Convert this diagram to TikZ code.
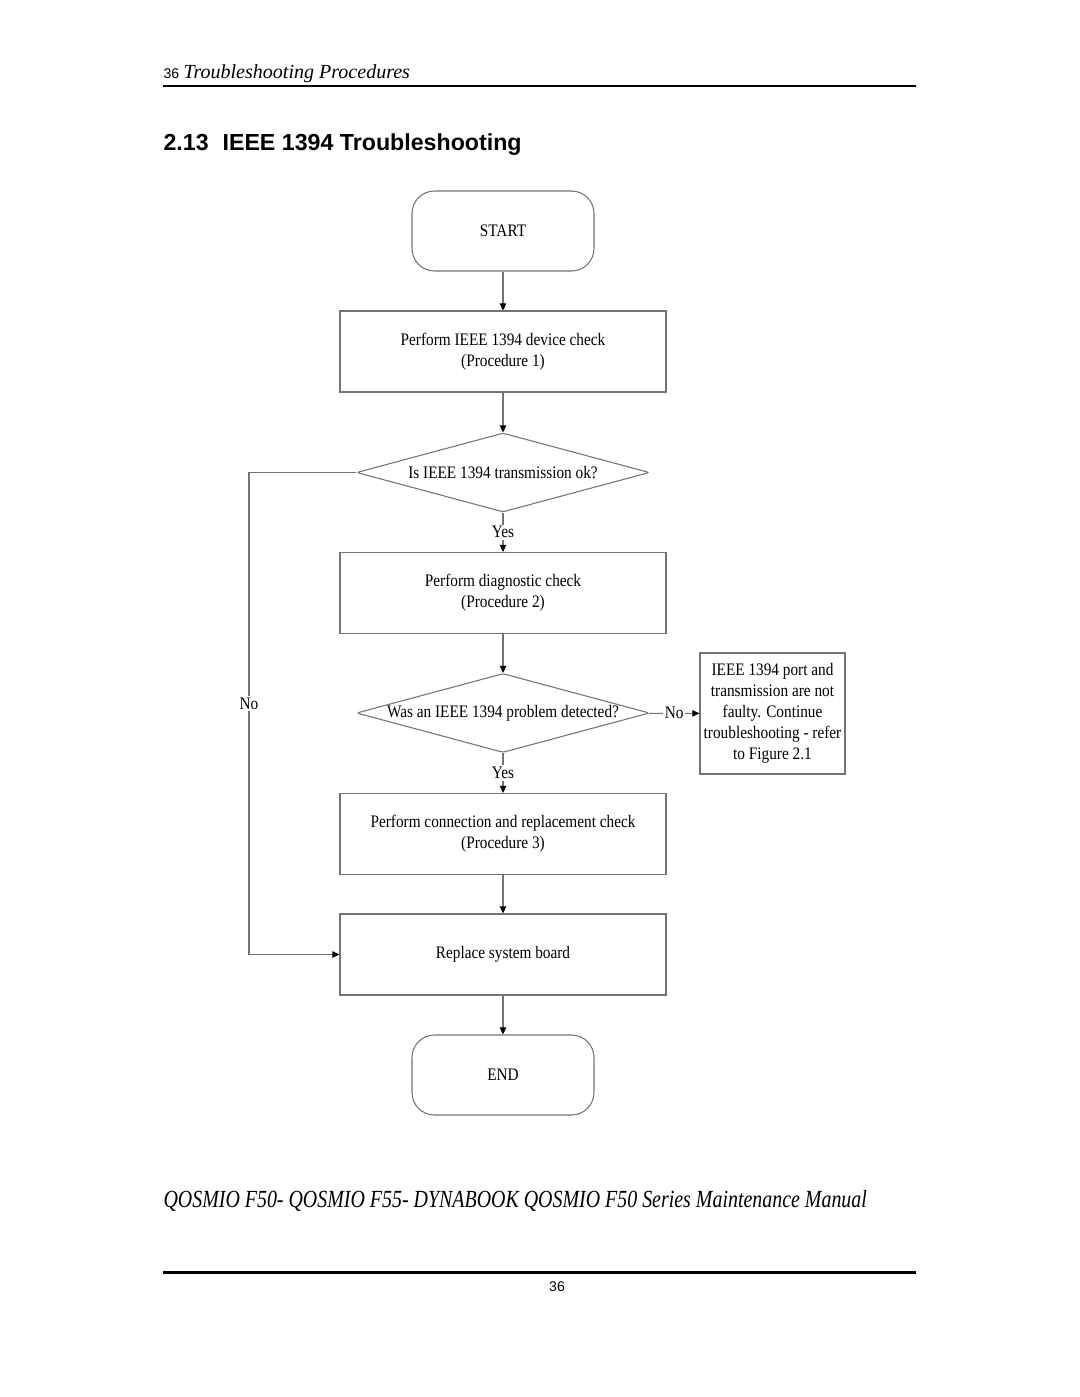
\documentclass[tikz,border=0pt]{standalone}
\usepackage{fontspec}
\setmainfont{Liberation Serif}
\setsansfont{Liberation Sans}
\newfontfamily\chartfont[FakeStretch=0.87]{Liberation Serif}
\newfontfamily\footfont[FakeStretch=0.81]{Liberation Serif}
\usetikzlibrary{%
  arrows.meta,%
  shapes.geometric,% wg. diamond
  shapes.misc,%
  positioning%
}

\begin{document}
\begin{tikzpicture}[
  font=\chartfont\fontsize{10}{12}\selectfont,
  >={Triangle[length=4pt, width=3.6pt, color=black]},
  line width=0.6pt,
  flowline/.style={draw=black!55, ->},
  terminal/.style={rectangle, rounded corners=0.45cm, minimum width=3.64cm, minimum height=1.6cm, draw=black!55},
  process/.style={rectangle, minimum width=6.52cm, minimum height=1.62cm, draw=black!55, align=center},
  decision/.style={diamond, minimum width=5.86cm, minimum height=1.58cm, inner sep=0pt, aspect=3.7, draw=black!55, rounded corners=1.5pt},
  answer/.style={fill=white, inner sep=1pt},
  note/.style={rectangle, minimum width=2.9cm, minimum height=2.42cm, draw=black!55, align=center, inner sep=1pt}
]
\useasboundingbox (0,0) rectangle (21.6,-27.94);

\node[anchor=base west, inner sep=0pt, font=\sffamily\fontsize{8}{10}\selectfont] (pagehead) at (3.26,-1.56) {36};
\node[anchor=base west, inner sep=0pt, font=\itshape\fontsize{11.4}{14}\selectfont] (chapter) at (3.66,-1.56) {Troubleshooting Procedures};
\draw[line width=1.7pt] (3.26,-1.72) -- (18.32,-1.72);

\node[anchor=base west, inner sep=0pt, font=\sffamily\bfseries\fontsize{13.2}{16}\selectfont] (title) at (3.26,-3.0) {2.13\hspace{0.6em}IEEE 1394 Troubleshooting};

\node[terminal] (start) at (10.06,-4.62) {START};
\node[process] (p1) at (10.06,-7.03) {Perform IEEE 1394 device check\\(Procedure 1)};
\node[decision] (q1) at (10.06,-9.45) {Is IEEE 1394 transmission ok?};
\node[process] (p2) at (10.06,-11.86) {Perform diagnostic check\\(Procedure 2)};
\node[decision] (q2) at (10.06,-14.26) {Was an IEEE 1394 problem detected?};
\node[note] (fig21) at (15.45,-14.27) {IEEE 1394 port and\\transmission are not\\faulty. Continue\\troubleshooting - refer\\to Figure 2.1};
\node[process] (p3) at (10.06,-16.68) {Perform connection and replacement check\\(Procedure 3)};
\node[process] (p4) at (10.06,-19.09) {Replace system board};
\node[terminal] (end) at (10.06,-21.5) {END};
\coordinate (nocorner) at (4.98,-9.45);

\draw[flowline] (start) -- (p1);
\draw[flowline] (p1) -- (q1);
\draw[flowline] (q1) -- node[answer]{Yes} (p2);
\draw[flowline] (p2) -- (q2);
\draw[flowline] (q2) -- node[answer]{No} (fig21);
\draw[flowline] (q2) -- node[answer]{Yes} (p3);
\draw[flowline] (p3) -- (p4);
\draw[flowline] (p4) -- (end);
\draw[flowline] (q1.west) -- (nocorner) |- node[answer, pos=0.24]{No} (p4.west);

\node[anchor=base west, inner sep=0pt, font=\footfont\itshape\fontsize{14}{16}\selectfont] (manual) at (3.26,-24.14) {QOSMIO F50- QOSMIO F55- DYNABOOK QOSMIO F50 Series Maintenance Manual};
\draw[line width=1.7pt] (3.26,-25.44) -- (18.32,-25.44);
\node[anchor=base, inner sep=0pt, font=\sffamily\fontsize{8}{10}\selectfont] (pagefoot) at (11.14,-25.82) {36};

\end{tikzpicture}
\end{document}
